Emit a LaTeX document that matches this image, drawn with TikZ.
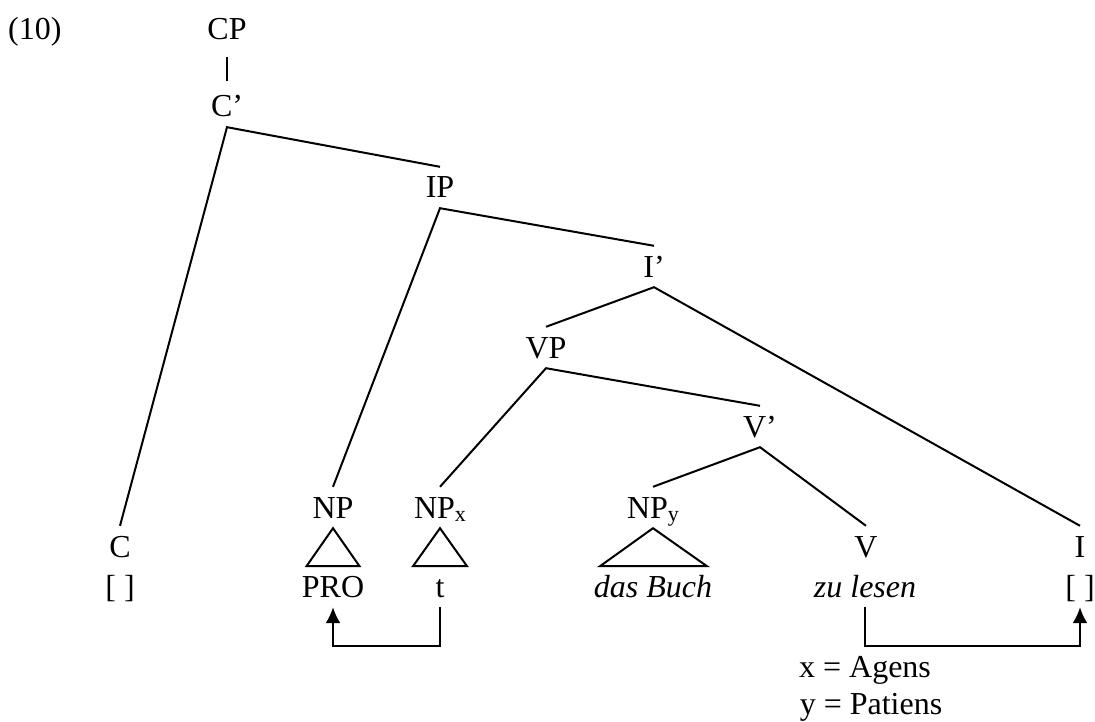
\documentclass[tikz,border=0pt]{standalone}
\usepackage{fontspec}
\setmainfont{Liberation Serif}
\usetikzlibrary{arrows.meta}
% lowered index letter after a category label
\newcommand{\idx}[1]{{\fontsize{22}{22}\selectfont\raisebox{-3pt}{#1}}}
\begin{document}
\begin{tikzpicture}[x=1pt,y=-1pt,
  cat/.style={font=\fontsize{32}{38}\selectfont, anchor=base,
    inner xsep=0pt, inner ysep=10pt, text height=21pt, text depth=0pt},
  plain/.style={font=\fontsize{32}{38}\selectfont, anchor=base, inner sep=0pt},
  branch/.style={line width=2pt},
  link/.style={line width=2pt, -{Latex[length=16pt,width=15pt]}}
]
\useasboundingbox (0,0) rectangle (1095,722);

% example number
\node[plain, anchor=base west] (num) at (8,40) {(10)};

% category labels
\node[cat] (CP)  at (227,40)  {CP};
\node[cat] (Cb)  at (227,117) {C’};
\node[cat] (IP)  at (440,198) {IP};
\node[cat] (Ib)  at (654,277) {I’};
\node[cat] (VP)  at (546,358) {VP};
\node[cat] (Vb)  at (760,437) {V’};
\node[cat] (NP)  at (333,518) {NP};
\node[cat] (NPx) at (440,518) {NP\idx{x}};
\node[cat] (NPy) at (653,518) {NP\idx{y}};
\node[cat] (C)   at (120,557) {C};
\node[cat] (V)   at (866,557) {V};
\node[cat] (I)   at (1080,557) {I};

% terminal strings
\node[cat] (Cx)   at (120,597)  {[ ]};
\node[cat] (PRO)  at (333,597)  {PRO};
\node[cat] (t)    at (440,597)  {t};
\node[cat] (Buch) at (653,597)  {\itshape das Buch};
\node[cat] (zu)   at (865,597)  {\itshape zu lesen};
\node[cat] (Ix)   at (1080,597) {[ ]};

% theta roles
\node[plain] (ag) at (865,677) {x = Agens};
\node[plain] (pa) at (871,714) {y = Patiens};

% branches
\draw[branch] ([yshift=-7pt]CP.south) -- ([yshift=5pt]CP.south |- Cb.north);
\draw[branch] (C.north) -- (Cb.south) -- (IP.north);
\draw[branch] (NP.north) -- (IP.south) -- (Ib.north);
\draw[branch] (VP.north) -- (Ib.south) -- (I.north);
\draw[branch] (NPx.north) -- (VP.south) -- (Vb.north);
\draw[branch] (NPy.north) -- (Vb.south) -- (V.north);

% roofs
\draw[branch] (NP.south)  -- ++(-26.5,38) -- ++(53,0) -- cycle;
\draw[branch] (NPx.south) -- ++(-27,38) -- ++(54,0) -- cycle;
\draw[branch] (NPy.south) -- ++(-53,38) -- ++(107,0) -- cycle;

% coindexing arrows
\draw[link] (t.south) -- ++(0,39) -| (PRO.south);
\draw[link] (zu.south) -- ++(0,39) -| (Ix.south);
\end{tikzpicture}
\end{document}
